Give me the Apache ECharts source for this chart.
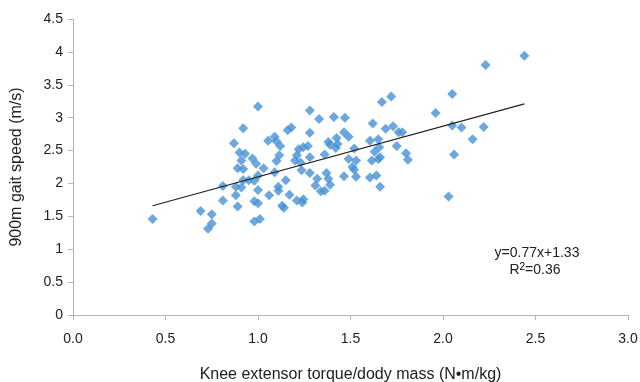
<!DOCTYPE html>
<html><head><meta charset="utf-8">
<script src="https://cdn.jsdelivr.net/npm/echarts@6/dist/echarts.min.js"></script>
<style>html,body{margin:0;padding:0;background:#fff}#c{width:640px;height:382px}</style>
</head><body><div id="c"></div>
<script>
const xValues = [0.43,0.69,0.75,0.75,0.73,0.81,0.81,0.88,0.89,0.88,0.91,0.92,0.95,0.98,1.00,0.89,0.92,0.91,0.90,0.93,0.87,0.92,1.00,0.97,0.99,1.03,1.00,0.98,1.00,0.98,1.01,1.06,1.11,1.11,1.15,1.09,1.17,1.13,1.14,1.21,1.245,1.24,1.055,1.09,1.10,1.12,1.115,1.10,1.18,1.16,1.28,1.33,1.28,1.41,1.47,1.22,1.245,1.27,1.21,1.20,1.23,1.28,1.235,1.28,1.32,1.31,1.34,1.36,1.37,1.38,1.39,1.36,1.38,1.39,1.425,1.43,1.42,1.465,1.49,1.52,1.49,1.53,1.51,1.465,1.53,1.605,1.64,1.66,1.615,1.65,1.66,1.63,1.655,1.605,1.65,1.62,1.67,1.72,1.69,1.73,1.76,1.78,1.75,1.80,1.81,1.96,2.05,2.05,2.10,2.22,2.16,2.06,2.03,2.23,2.44,1.52];
const yValues = [1.46,1.58,1.53,1.39,1.31,1.74,1.96,1.82,1.65,1.95,1.94,2.05,2.05,2.04,2.12,2.23,2.22,2.35,2.47,2.45,2.61,2.84,3.17,2.38,2.30,2.23,1.90,1.73,1.70,1.42,1.46,1.82,1.95,1.89,2.05,2.17,1.83,1.66,1.63,1.74,1.76,1.71,2.65,2.71,2.64,2.57,2.43,2.34,2.85,2.81,3.11,2.98,2.77,3.01,3.00,2.52,2.55,2.57,2.43,2.35,2.32,2.40,2.20,2.16,2.07,1.97,1.88,1.89,2.16,2.07,1.98,2.44,2.63,2.59,2.69,2.60,2.54,2.78,2.71,2.53,2.37,2.35,2.25,2.11,2.10,2.09,2.12,1.95,2.35,2.37,2.40,2.48,2.55,2.65,2.67,2.91,3.24,3.32,2.83,2.87,2.78,2.78,2.57,2.46,2.36,3.07,3.36,2.88,2.85,2.86,2.67,2.44,1.80,3.80,3.94,2.21];
const trendX = [0.43, 2.44];
const slope = 0.77, intercept = 1.33;
const xTicks = ['0.0','0.5','1.0','1.5','2.0','2.5','3.0'];
const yTicks = ['0','0.5','1','1.5','2','2.5','3','3.5','4','4.5'];

const pts = xValues.map((x,i)=>[x,yValues[i]]);
const trend = trendX.map(x=>[x, slope*x+intercept]);
const FONT = 'Liberation Sans';
const chart = echarts.init(document.getElementById('c'));
chart.setOption({
  animation:false,
  backgroundColor:'#fff',
  textStyle:{fontFamily:FONT},
  grid:{left:73,right:12,top:19,bottom:67,containLabel:false,outerBoundsMode:'none'},
  xAxis:{type:'value',min:0,max:3,interval:0.5,
    name:'Knee extensor torque/dody mass (N\u2022m/kg)',nameLocation:'middle',nameGap:52,
    nameTextStyle:{fontSize:16,color:'#222',fontFamily:FONT},
    axisLine:{show:true,lineStyle:{color:'#b5b5b5',width:1}},
    axisTick:{show:true,length:5,lineStyle:{color:'#b5b5b5'}},
    axisLabel:{fontSize:14,color:'#222',margin:17,formatter:(v)=>xTicks[Math.round(v/0.5)]},
    splitLine:{show:false}},
  yAxis:{type:'value',min:0,max:4.5,interval:0.5,
    name:'900m gait speed (m/s)',nameLocation:'middle',nameGap:48,
    nameTextStyle:{fontSize:16,color:'#222',fontFamily:FONT},
    axisLine:{show:true,lineStyle:{color:'#b5b5b5',width:1}},
    axisTick:{show:true,length:5,lineStyle:{color:'#b5b5b5'}},
    axisLabel:{fontSize:14,color:'#222',margin:10,formatter:(v)=>yTicks[Math.round(v/0.5)]},
    splitLine:{show:false}},
  series:[
    {type:'scatter',data:pts,symbol:'diamond',symbolSize:10,
      itemStyle:{color:'#4792d4'},z:2},
    {type:'line',data:trend,symbol:'none',lineStyle:{color:'#222',width:1.2},z:3}
  ],
  graphic:[
    {type:'text',x:537,y:246,style:{text:'y=0.77x+1.33',fontSize:14,fill:'#222',fontFamily:FONT,align:'center',verticalAlign:'top'}},
    {type:'text',x:535,y:262,style:{
      text:'{a|R}{s|2}{a|=0.36}',align:'center',verticalAlign:'top',
      rich:{a:{fontSize:14,fill:'#222',fontFamily:FONT,color:'#222'},
            s:{fontSize:10,color:'#222',fontFamily:FONT,verticalAlign:'top',padding:[0,0,6,0]}}}}
  ]
});
</script></body></html>
